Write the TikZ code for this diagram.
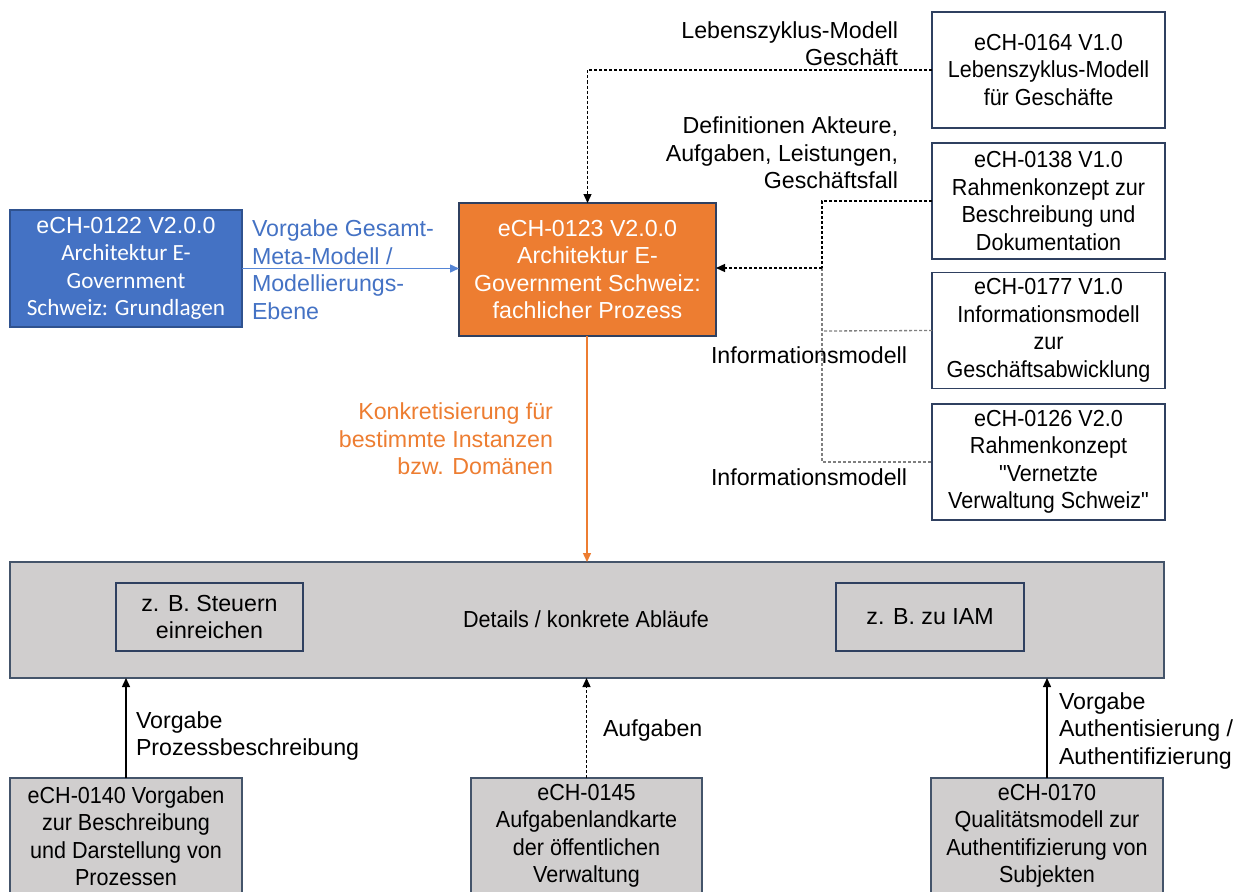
\documentclass[tikz,border=0pt]{standalone}
\usepackage{fontspec}
\setmainfont{Liberation Sans}[Ligatures=TeXOff]
\newfontfamily\narrowfont{Liberation Sans}[Ligatures=TeXOff,FakeStretch=0.93]
\newfontfamily\calfont{Carlito}[Ligatures=TeXOff]
\usetikzlibrary{arrows.meta,calc}
\definecolor{boxline}{HTML}{2F4060}
\definecolor{bluefill}{HTML}{4472C4}
\definecolor{blueline}{HTML}{2F528F}
\definecolor{bluetext}{HTML}{4472C4}
\definecolor{bluearrow}{HTML}{5585D6}
\definecolor{orangefill}{HTML}{ED7D31}
\definecolor{orangetext}{HTML}{ED7D31}
\definecolor{greyfill}{HTML}{D0CECE}
\definecolor{greyline}{HTML}{44546A}
\definecolor{dotgrey}{HTML}{7F7F7F}
\begin{document}
\begin{tikzpicture}[x=1pt,y=-1pt,
  every node/.style={font=\fontsize{23.2}{27.5}\selectfont, inner sep=0pt, outer sep=0pt},
  narrow/.style={font=\fontsize{23.2}{27.5}\selectfont\narrowfont},
  wbox/.style={draw=boxline, fill=white, line width=1.4pt, align=center, minimum width=233pt, minimum height=116pt, narrow},
  gbox/.style={draw=greyline, fill=greyfill, line width=1.4pt, align=center, narrow},
  lbl/.style={align=left, anchor=west},
  rlbl/.style={align=right, anchor=east},
  arr/.style={-{Triangle[length=9pt,width=8pt]}},
  dots/.style={dash pattern=on 3pt off 2pt, line width=1.3pt},
  solid1/.style={line width=1.4pt}]
\useasboundingbox (0,0) rectangle (1241,891);
\clip (0,0) rectangle (1241,891);

% right column boxes
\node[wbox] (b164) at (1048.5,70) {eCH-0164 V1.0\\Lebenszyklus-Modell\\für Geschäfte};
\node[wbox] (b138) at (1048.5,201) {eCH-0138 V1.0\\Rahmenkonzept zur\\Beschreibung und\\Dokumentation};
\node[wbox] (b177) at (1048.5,330.5) {eCH-0177 V1.0\\Informationsmodell\\zur\\Geschäftsabwicklung};
\node[wbox] (b126) at (1048.5,462) {eCH-0126 V2.0\\Rahmenkonzept\\"Vernetzte\\Verwaltung Schweiz"};

% main boxes
\node[draw=boxline, fill=orangefill, text=white, line width=1.4pt, align=center,
      minimum width=257pt, minimum height=133pt] (orange) at (587.5,269.5)
      {eCH-0123 V2.0.0\\Architektur E-\\Government Schweiz:\\fachlicher Prozess};
\node[draw=blueline, fill=bluefill, text=white, line width=1.4pt, align=center,
      minimum width=232pt, minimum height=117pt] (blue) at (126,268.5)
      {eCH-0122 V2.0.0\\{\calfont Architektur E-}\\{\calfont Government}\\{\calfont Schweiz: Grundlagen}};

% grey band
\node[gbox, minimum width=1154pt, minimum height=116pt] (grey) at (587,620) {};
\node[narrow] (details) at (586,619) {Details / konkrete Abläufe};
\node[draw=boxline, line width=1.4pt, align=center, minimum width=187pt, minimum height=68pt] (steuern) at (209.5,617) {z. B. Steuern\\einreichen};
\node[draw=boxline, line width=1.4pt, align=center, minimum width=188pt, minimum height=68pt] (iam) at (930,617) {z. B. zu IAM};

% bottom boxes
\node[gbox, minimum width=232pt, minimum height=116pt] (b140) at (126,836) {eCH-0140 Vorgaben\\zur Beschreibung\\und Darstellung von\\Prozessen};
\node[gbox, minimum width=231pt, minimum height=116pt] (b145) at (586.5,836) {eCH-0145\\Aufgabenlandkarte\\der öffentlichen\\Verwaltung};
\node[gbox, minimum width=232pt, minimum height=116pt] (b170) at (1047,836) {eCH-0170\\Qualitätsmodell zur\\Authentifizierung von\\Subjekten};

% labels
\node[rlbl] (l164) at (898,43.5) {Lebenszyklus-Modell\\Geschäft};
\node[rlbl] (ldef) at (898,153) {Definitionen Akteure,\\Aufgaben, Leistungen,\\Geschäftsfall};
\node[lbl, text=bluetext] (lblue) at (252,269.5) {Vorgabe Gesamt-\\Meta-Modell /\\Modellierungs-\\Ebene};
\node (info1) at (809,355) {Informationsmodell};
\node (info2) at (809,477) {Informationsmodell};
\node[rlbl, text=orangetext] (lorange) at (553,439) {Konkretisierung für\\bestimmte Instanzen\\bzw. Domänen};
\node[lbl] (lvp) at (136,736) {Vorgabe\\Prozessbeschreibung};
\node[lbl] (lauf) at (603,730) {Aufgaben};
\node[lbl] (lauth) at (1059,730.5) {Vorgabe\\Authentisierung /\\Authentifizierung};

% coordinates of the trunk
\coordinate (t138) at (822,201);
\coordinate (t177) at (822,331);
\coordinate (t126) at (822,462);
\coordinate (tmid) at (822,268);

% connectors
\draw[dots, arr] (b164.west) -| (orange.north);
\draw[dots] (b138.west) -- (t138) -- (tmid);
\draw[dots, dotgrey] (tmid) -- (t126) -- (b126.west);
\draw[dots, dotgrey] (b177.west) -- (t177);
\draw[dots, arr] (tmid) -- (orange.east |- tmid);
\draw[line width=1.4pt, bluearrow, arr] (blue.east) -- (orange.west |- blue.east);
\draw[line width=1.4pt, orangefill, arr] (orange.south -| grey.north) -- (grey.north);
\draw[solid1, arr] (b140.north) -- (b140.north |- grey.south);
\draw[dots, arr] (b145.north) -- (b145.north |- grey.south);
\draw[solid1, arr] (b170.north) -- (b170.north |- grey.south);
\end{tikzpicture}
\end{document}
